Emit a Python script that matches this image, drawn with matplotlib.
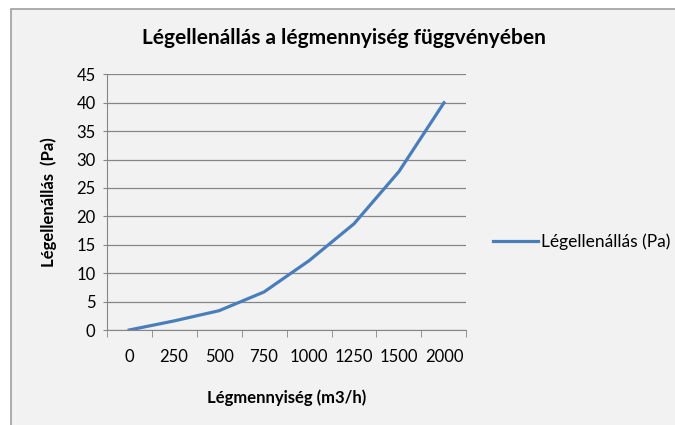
import matplotlib
matplotlib.use("Agg")
import matplotlib.pyplot as plt
from matplotlib.patches import Rectangle

# data
categories = ['0', '250', '500', '750', '1000', '1250', '1500', '2000']
resistance = [0, 1.6, 3.4, 6.7, 12.2, 18.7, 27.9, 40.0]

plt.rcParams['font.family'] = ['Lato', 'DejaVu Sans']

bg = '#f2f2f2'
fig = plt.figure(figsize=(6.75, 4.25), dpi=100)
fig.patch.set_facecolor('white')
fig.patches.append(Rectangle((11 / 675, -0.05), 1.1, 1 - 9 / 425 + 0.05,
                             transform=fig.transFigure, facecolor=bg,
                             edgecolor='#a0a0a0', linewidth=1.2, zorder=-10))

ax = fig.add_axes([0.158, 0.2235, 0.533, 0.6015])
ax.set_facecolor(bg)

x = list(range(len(categories)))
ax.plot(x, resistance, color='#4a7ebb', linewidth=2.3, label='Légellenállás (Pa)')

ax.set_xlim(-0.5, len(categories) - 0.5)
ax.set_ylim(0, 45)
ax.set_yticks(range(0, 46, 5))
ax.set_xticks(x)
ax.set_xticklabels(categories)
ax.set_xticks([i - 0.5 for i in range(len(categories) + 1)], minor=True)
ax.tick_params(axis='x', which='major', length=0, pad=14, labelsize=12)
ax.tick_params(axis='x', which='minor', length=5, color='#868686')
ax.tick_params(axis='y', length=3, color='#868686', labelsize=12, pad=5)

ax.grid(axis='y', color='#868686', linewidth=0.9)
ax.set_axisbelow(True)
for side in ['top', 'right']:
    ax.spines[side].set_visible(False)
for side in ['left', 'bottom']:
    ax.spines[side].set_color('#868686')

ax.set_xlabel('Légmennyiség (m3/h)', fontsize=12, fontweight='bold', labelpad=17)
ax.set_ylabel('Légellenállás  (Pa)', fontsize=12, fontweight='bold', labelpad=14)
fig.text(0.51, 0.91, 'Légellenállás a légmennyiség függvényében',
         ha='center', va='center', fontsize=15, fontweight='bold')

ax.legend(loc='center left', bbox_to_anchor=(1.055, 0.344), frameon=False,
          fontsize=12.5, handlelength=2.6, handletextpad=0.15,
          borderaxespad=0)

fig.savefig('out.png', dpi=100, facecolor=fig.get_facecolor())
